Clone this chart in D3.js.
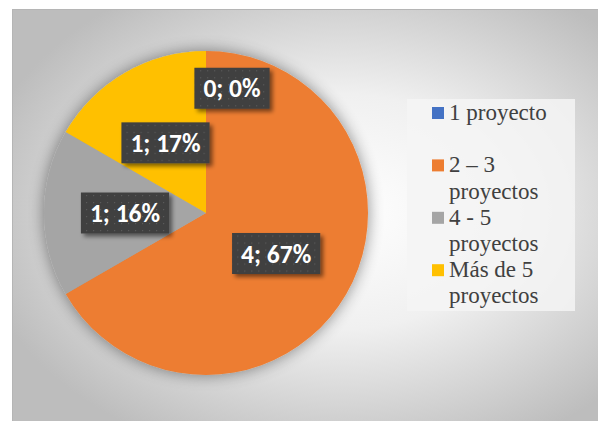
<!DOCTYPE html>
<html>
<head>
<meta charset="utf-8">
<script src="https://cdn.jsdelivr.net/npm/d3@7"></script>
</head>
<body style="margin:0">
<div id="chart"></div>
<script>
const width = 598
const height = 421

// data
const categories = ["1 proyecto", "2 \u2013 3 proyectos", "4 - 5 proyectos", "Más de 5 proyectos"];
const legendLines = [["1 proyecto"], ["2 \u2013 3", "proyectos"], ["4 - 5", "proyectos"], ["Más de 5", "proyectos"]];
const values = [0, 4, 1, 1];
const percentLabels = ["0%", "67%", "16%", "17%"];
const colors = ["#4472C4", "#ED7D31", "#A5A5A5", "#FFC000"];

const svg = d3.select("#chart")
  .append("svg")
  .attr("width", width)
  .attr("height", height)
  .attr("font-family", "Liberation Serif")
  .style("display", "block")

const defs = svg.append("defs");

// chart area background: radial grey gradient
const bg = defs.append("radialGradient")
  .attr("id", "bg-grad")
  .attr("cx", "55%").attr("cy", "48%").attr("r", "62%");
bg.append("stop").attr("offset", "0%").attr("stop-color", "#ffffff");
bg.append("stop").attr("offset", "45%").attr("stop-color", "#f0f0f0");
bg.append("stop").attr("offset", "100%").attr("stop-color", "#bdbdbd");

// soft glow behind the pie
const glow = defs.append("filter").attr("id", "pie-glow")
  .attr("x", "-20%").attr("y", "-20%").attr("width", "140%").attr("height", "140%");
glow.append("feGaussianBlur").attr("in", "SourceAlpha").attr("stdDeviation", 8).attr("result", "b");
glow.append("feComponentTransfer").attr("in", "b").attr("result", "s")
  .append("feFuncA").attr("type", "linear").attr("slope", 0.45);
const gm = glow.append("feMerge");
gm.append("feMergeNode").attr("in", "s");
gm.append("feMergeNode").attr("in", "SourceGraphic");

// drop shadow for the label boxes
const shadow = defs.append("filter").attr("id", "box-shadow")
  .attr("x", "-20%").attr("y", "-30%").attr("width", "150%").attr("height", "170%");
shadow.append("feGaussianBlur").attr("in", "SourceAlpha").attr("stdDeviation", 2).attr("result", "b");
shadow.append("feOffset").attr("in", "b").attr("dx", 3).attr("dy", 3).attr("result", "o");
shadow.append("feComponentTransfer").attr("in", "o").attr("result", "s")
  .append("feFuncA").attr("type", "linear").attr("slope", 0.5);
const sm = shadow.append("feMerge");
sm.append("feMergeNode").attr("in", "s");
sm.append("feMergeNode").attr("in", "SourceGraphic");

// dotted texture on label boxes
const pat = defs.append("pattern")
  .attr("id", "dots")
  .attr("width", 7).attr("height", 7)
  .attr("patternUnits", "userSpaceOnUse");
pat.append("rect").attr("width", 7).attr("height", 7).attr("fill", "#404040");
pat.append("rect").attr("x", 3).attr("y", 3).attr("width", 1.2).attr("height", 1.2).attr("fill", "#5a5a5a");

svg.append("rect")
  .attr("x", 12.5).attr("y", 9.5)
  .attr("width", width).attr("height", height)
  .attr("fill", "url(#bg-grad)")
  .attr("stroke", "#b5b5b5")
  .attr("stroke-width", 1);

// legend
const legend = svg.append("g").attr("class", "legend");
legend.append("rect")
  .attr("x", 407).attr("y", 99)
  .attr("width", 168).attr("height", 212)
  .attr("fill", "#f4f4f4")
  .attr("opacity", 0.85);

const lineH = 26.2;
const items = legend.selectAll("g.item")
  .data(categories)
  .join("g")
  .attr("class", "item")
  .attr("transform", (d, i) => `translate(432,${120 + i * 2 * lineH})`);

items.append("rect")
  .attr("x", 0).attr("y", -13)
  .attr("width", 12).attr("height", 12)
  .attr("fill", (d, i) => colors[i]);

items.selectAll("text")
  .data((d, i) => legendLines[i])
  .join("text")
  .attr("x", 17)
  .attr("y", (d, j) => j * lineH)
  .attr("font-family", "Liberation Serif")
  .attr("font-size", 23)
  .attr("fill", "#404040")
  .text(d => d);

// pie
const cx = 206, cy = 213, radius = 162;

const pie = d3.pie().sort(null).value(d => d)(values);
const arc = d3.arc().innerRadius(0).outerRadius(radius);
const labelArc = d3.arc().innerRadius(radius * 0.5).outerRadius(radius * 0.5);
const zeroArc = d3.arc().innerRadius(radius * 0.77).outerRadius(radius * 0.77);

const g = svg.append("g").attr("transform", `translate(${cx},${cy})`);

g.append("g")
  .attr("filter", "url(#pie-glow)")
  .selectAll("path")
  .data(pie)
  .join("path")
  .attr("d", arc)
  .attr("fill", (d, i) => colors[i]);

// data labels
const labels = g.selectAll("g.lbl")
  .data(pie)
  .join("g")
  .attr("class", "lbl")
  .attr("transform", (d, i) => {
    let c;
    if (d.value === 0) {
      c = zeroArc.centroid(d);
      c[0] += 26;
    } else {
      c = labelArc.centroid(d);
    }
    return `translate(${c[0]},${c[1]})`;
  });

const boxH = 41;
labels.each(function (d, i) {
  const sel = d3.select(this);
  const t = sel.append("text")
    .attr("text-anchor", "middle")
    .attr("dy", "0.36em")
    .attr("font-family", "Carlito")
    .attr("font-weight", "bold")
    .attr("font-size", 25.5)
    .attr("fill", "#ffffff")
    .text(`${values[i]}; ${percentLabels[i]}`);
  const w = t.node().getComputedTextLength() + 18;
  sel.insert("rect", "text")
    .attr("x", -w / 2).attr("y", -boxH / 2)
    .attr("width", w).attr("height", boxH)
    .attr("fill", "url(#dots)")
    .attr("filter", "url(#box-shadow)");
});
</script>
</body>
</html>
